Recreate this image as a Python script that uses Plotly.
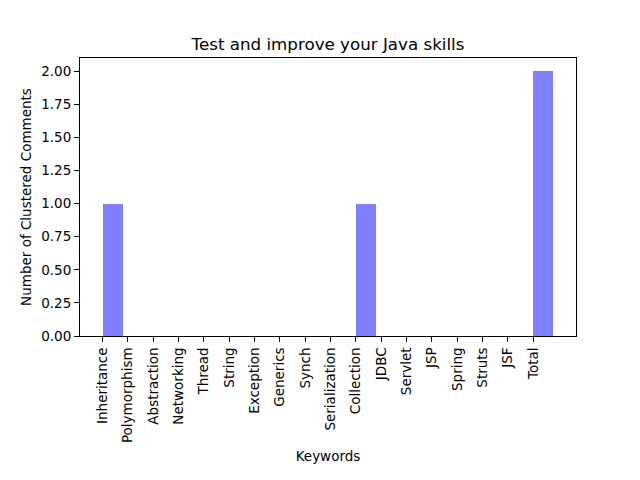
import plotly.graph_objects as go

categories = ["Inheritance", "Polymorphism", "Abstraction", "Networking", "Thread", "String",
              "Exception", "Generics", "Synch", "Serialization", "Collection", "JDBC",
              "Servlet", "JSP", "Spring", "Struts", "JSF", "Total"]
values = [1, 0, 0, 0, 0, 0, 0, 0, 0, 0, 1, 0, 0, 0, 0, 0, 0, 2]
y_ticks = [0.0, 0.25, 0.5, 0.75, 1.0, 1.25, 1.5, 1.75, 2.0]

bar_width = 0.8
idx = list(range(len(categories)))
xcenters = [i + bar_width / 2 for i in idx]
n_span = len(categories) - 1 + bar_width
pad = 0.05 * n_span

fig = go.Figure()
fig.add_trace(go.Bar(
    x=xcenters, y=values, width=bar_width,
    marker=dict(color="rgba(0,0,255,0.5)", line=dict(width=0)),
))

font = "DejaVu Sans, sans-serif"
fig.update_layout(
    width=640, height=480,
    margin=dict(l=72, r=72, t=50, b=152),
    paper_bgcolor="white", plot_bgcolor="white",
    showlegend=False,
    font=dict(family=font, size=13.5, color="black"),
    title=dict(text="Test and improve your Java skills", x=0.5, xanchor="center",
               y=1 - 36 / 480, yanchor="middle", font=dict(size=16.7, family=font)),
    xaxis=dict(
        range=[-pad, n_span + pad], automargin=False,
        tickmode="array", tickvals=idx, ticktext=categories, tickangle=-90,
        ticks="outside", ticklen=5, tickcolor="black", tickwidth=1,
        showline=True, linecolor="black", linewidth=1, mirror=True,
        showgrid=False, zeroline=False,
        title=dict(text="Keywords", standoff=9, font=dict(size=13.5)),
        tickfont=dict(size=13.5),
    ),
    yaxis=dict(
        range=[0, 2.1], automargin=False,
        tickmode="array", tickvals=y_ticks, ticktext=[f"{v:.2f}" for v in y_ticks],
        ticks="outside", ticklen=5, tickcolor="black", tickwidth=1,
        showline=True, linecolor="black", linewidth=1, mirror=True,
        showgrid=False, zeroline=False,
        title=dict(text="Number of Clustered Comments", standoff=6, font=dict(size=13.5)),
        tickfont=dict(size=13.5),
    ),
    bargap=0,
)

fig.write_html("out.html")
